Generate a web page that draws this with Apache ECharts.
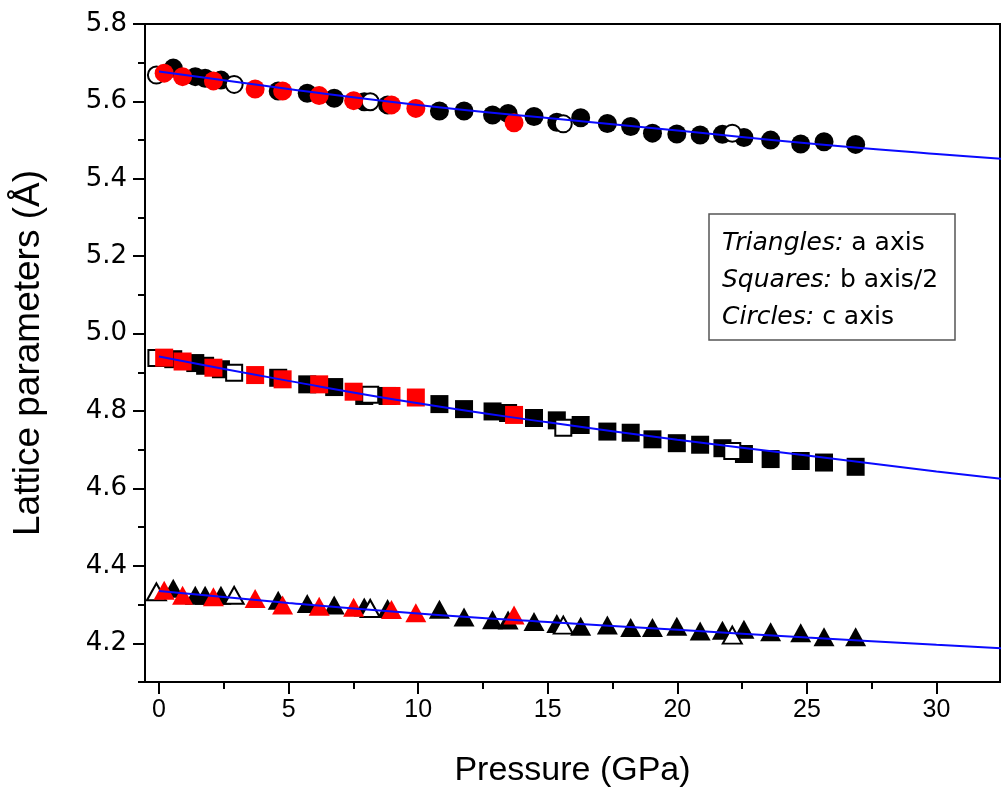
<!DOCTYPE html>
<html>
<head>
<meta charset="utf-8">
<script src="https://cdn.jsdelivr.net/npm/echarts@6/dist/echarts.min.js"></script>
<style>
  html, body { margin: 0; padding: 0; background: #fff; }
  #chart { width: 1001px; height: 810px; }
</style>
</head>
<body>
<div id="chart"></div>
<script>
// pressures (GPa) for the three kinds of points
const pBlack = [0.55, 1.4, 1.78, 2.39, 4.6, 5.72, 6.76, 7.92, 8.82, 10.82, 11.77, 12.87, 13.47, 14.47,
  15.35, 16.27, 17.3, 18.2, 19.04, 19.98, 20.88, 21.74, 22.57, 23.6, 24.76, 25.66, 26.88]
const pOpen = [-0.1, 2.9, 8.15, 15.6, 22.12]
const pRed = [0.2, 0.91, 2.1, 3.71, 4.77, 6.18, 7.51, 8.97, 9.91, 13.7]

// c axis (circles)
const cBlack = [5.686, 5.664, 5.660, 5.655, 5.627, 5.621, 5.608, 5.599, 5.591, 5.575, 5.575, 5.565, 5.569, 5.561,
  5.546, 5.558, 5.543, 5.535, 5.518, 5.516, 5.513, 5.515, 5.507, 5.500, 5.490, 5.496, 5.489]
const cOpen = [5.668, 5.644, 5.599, 5.542, 5.518]
const cRed = [5.673, 5.664, 5.653, 5.632, 5.627, 5.615, 5.602, 5.591, 5.582, 5.545]

// b axis / 2 (squares)
const bBlack = [4.934, 4.924, 4.917, 4.908, 4.886, 4.869, 4.862, 4.839, 4.839, 4.818, 4.805, 4.799, 4.795, 4.782,
  4.776, 4.764, 4.747, 4.744, 4.727, 4.717, 4.713, 4.704, 4.689, 4.676, 4.671, 4.667, 4.656]
const bOpen = [4.937, 4.899, 4.842, 4.757, 4.697]
const bRed = [4.938, 4.928, 4.912, 4.893, 4.882, 4.869, 4.850, 4.839, 4.835, 4.790]

// a axis (triangles)
const aBlack = [4.342, 4.324, 4.324, 4.324, 4.311, 4.303, 4.299, 4.294, 4.290, 4.288, 4.268, 4.261, 4.260, 4.256,
  4.251, 4.244, 4.247, 4.241, 4.241, 4.244, 4.232, 4.234, 4.236, 4.230, 4.227, 4.217, 4.217]
const aOpen = [4.333, 4.324, 4.290, 4.247, 4.221]
const aRed = [4.337, 4.324, 4.320, 4.316, 4.299, 4.296, 4.293, 4.287, 4.279, 4.273]

// fitted curves (blue)
const pFit = [0, 5, 10, 15, 20, 25, 30, 32.5]
const cFit = [5.677, 5.632, 5.591, 5.557, 5.525, 5.492, 5.464, 5.452]
const bFit = [4.941, 4.878, 4.820, 4.771, 4.726, 4.685, 4.644, 4.625]
const aFit = [4.335, 4.304, 4.277, 4.255, 4.235, 4.215, 4.196, 4.187]

// ticks
const xTicks = [0, 5, 10, 15, 20, 25, 30]
const xMinor = [2.5, 7.5, 12.5, 17.5, 22.5, 27.5]
const yTicks = [4.2, 4.4, 4.6, 4.8, 5.0, 5.2, 5.4, 5.6, 5.8]
const yMinor = [4.1, 4.3, 4.5, 4.7, 4.9, 5.1, 5.3, 5.5, 5.7]

const zip = (xs, ys) => xs.map((x, i) => [x, ys[i]])

const chart = echarts.init(document.getElementById('chart'))

const black = { color: '#000', opacity: 1 }
const open = { color: '#fff', borderColor: '#000', borderWidth: 2, opacity: 1 }
const red = { color: '#ff0000', opacity: 1 }

const marks = {
  circle: { symbol: 'circle', size: 19, openSize: 17 },
  rect: { symbol: 'rect', size: 18, openSize: 16 },
  triangle: { symbol: 'triangle', size: [21, 19], openSize: [19, 17] }
}

function scatter(shape, data, style, isOpen) {
  const m = marks[shape]
  return {
    type: 'scatter',
    symbol: m.symbol,
    symbolSize: isOpen ? m.openSize : m.size,
    itemStyle: style,
    data: data,
    silent: true
  }
}

function fit(ys) {
  return {
    type: 'line',
    data: zip(pFit, ys),
    smooth: true,
    showSymbol: false,
    lineStyle: { color: '#0a0aff', width: 2 },
    z: 5,
    silent: true
  }
}

const tickFont = "'DejaVu Sans', sans-serif"
const xFont = "'Liberation Sans', Arial, sans-serif"

const option = {
  animation: false,
  backgroundColor: '#fff',
  grid: {
    left: 145, right: 1, top: 24, bottom: 128,
    show: true, borderColor: '#000', borderWidth: 2, backgroundColor: 'transparent'
  },
  xAxis: [
    {
      type: 'value', min: -0.54, max: 32.45,
      axisLine: { onZero: false, lineStyle: { color: '#000', width: 2 } },
      axisTick: { customValues: xTicks, length: 12, lineStyle: { color: '#000', width: 2 } },
      axisLabel: { customValues: xTicks, color: '#000', fontSize: 25, fontFamily: xFont, margin: 16 },
      splitLine: { show: false },
      name: 'Pressure (GPa)', nameLocation: 'middle', nameGap: 72,
      nameTextStyle: { color: '#000', fontSize: 34, fontFamily: xFont }
    },
    {
      type: 'value', min: -0.54, max: 32.45, position: 'bottom',
      axisLine: { show: false, onZero: false },
      axisTick: { customValues: xMinor, length: 7, lineStyle: { color: '#000', width: 2 } },
      axisLabel: { show: false },
      splitLine: { show: false }
    }
  ],
  yAxis: [
    {
      type: 'value', min: 4.1, max: 5.8,
      axisLine: { show: true, onZero: false, lineStyle: { color: '#000', width: 2 } },
      axisTick: { show: true, customValues: yTicks, length: 12, lineStyle: { color: '#000', width: 2 } },
      axisLabel: {
        customValues: yTicks, color: '#000', fontSize: 26, fontFamily: tickFont, margin: 18,
        formatter: v => v.toFixed(1)
      },
      splitLine: { show: false },
      name: 'Lattice parameters (Å)', nameLocation: 'middle', nameGap: 98,
      nameTextStyle: { color: '#000', fontSize: 37, fontFamily: xFont }
    },
    {
      type: 'value', min: 4.1, max: 5.8, position: 'left',
      axisLine: { show: false, onZero: false },
      axisTick: { show: true, customValues: yMinor, length: 7, lineStyle: { color: '#000', width: 2 } },
      axisLabel: { show: false },
      splitLine: { show: false }
    }
  ],
  graphic: [
    {
      type: 'rect',
      shape: { x: 709, y: 214, width: 246, height: 126 },
      style: { fill: '#fff', stroke: '#555', lineWidth: 1.5 },
      z: 10
    },
    {
      type: 'text',
      x: 722, y: 225,
      style: {
        text: '{i|Triangles:} a axis\n{i|Squares:} b axis/2\n{i|Circles:} c axis',
        fill: '#000',
        font: "25px 'DejaVu Sans', sans-serif",
        lineHeight: 37,
        rich: {
          i: { fontStyle: 'italic', fontSize: 25, fontFamily: "'DejaVu Sans', sans-serif", lineHeight: 37 }
        }
      },
      z: 11
    }
  ],
  series: [
    scatter('circle', zip(pBlack, cBlack), black),
    scatter('rect', zip(pBlack, bBlack), black),
    scatter('triangle', zip(pBlack, aBlack), black),
    scatter('circle', zip(pOpen, cOpen), open, true),
    scatter('rect', zip(pOpen, bOpen), open, true),
    scatter('triangle', zip(pOpen, aOpen), open, true),
    scatter('circle', zip(pRed, cRed), red),
    scatter('rect', zip(pRed, bRed), red),
    scatter('triangle', zip(pRed, aRed), red),
    fit(cFit),
    fit(bFit),
    fit(aFit)
  ]
}

chart.setOption(option)
</script>
</body>
</html>
